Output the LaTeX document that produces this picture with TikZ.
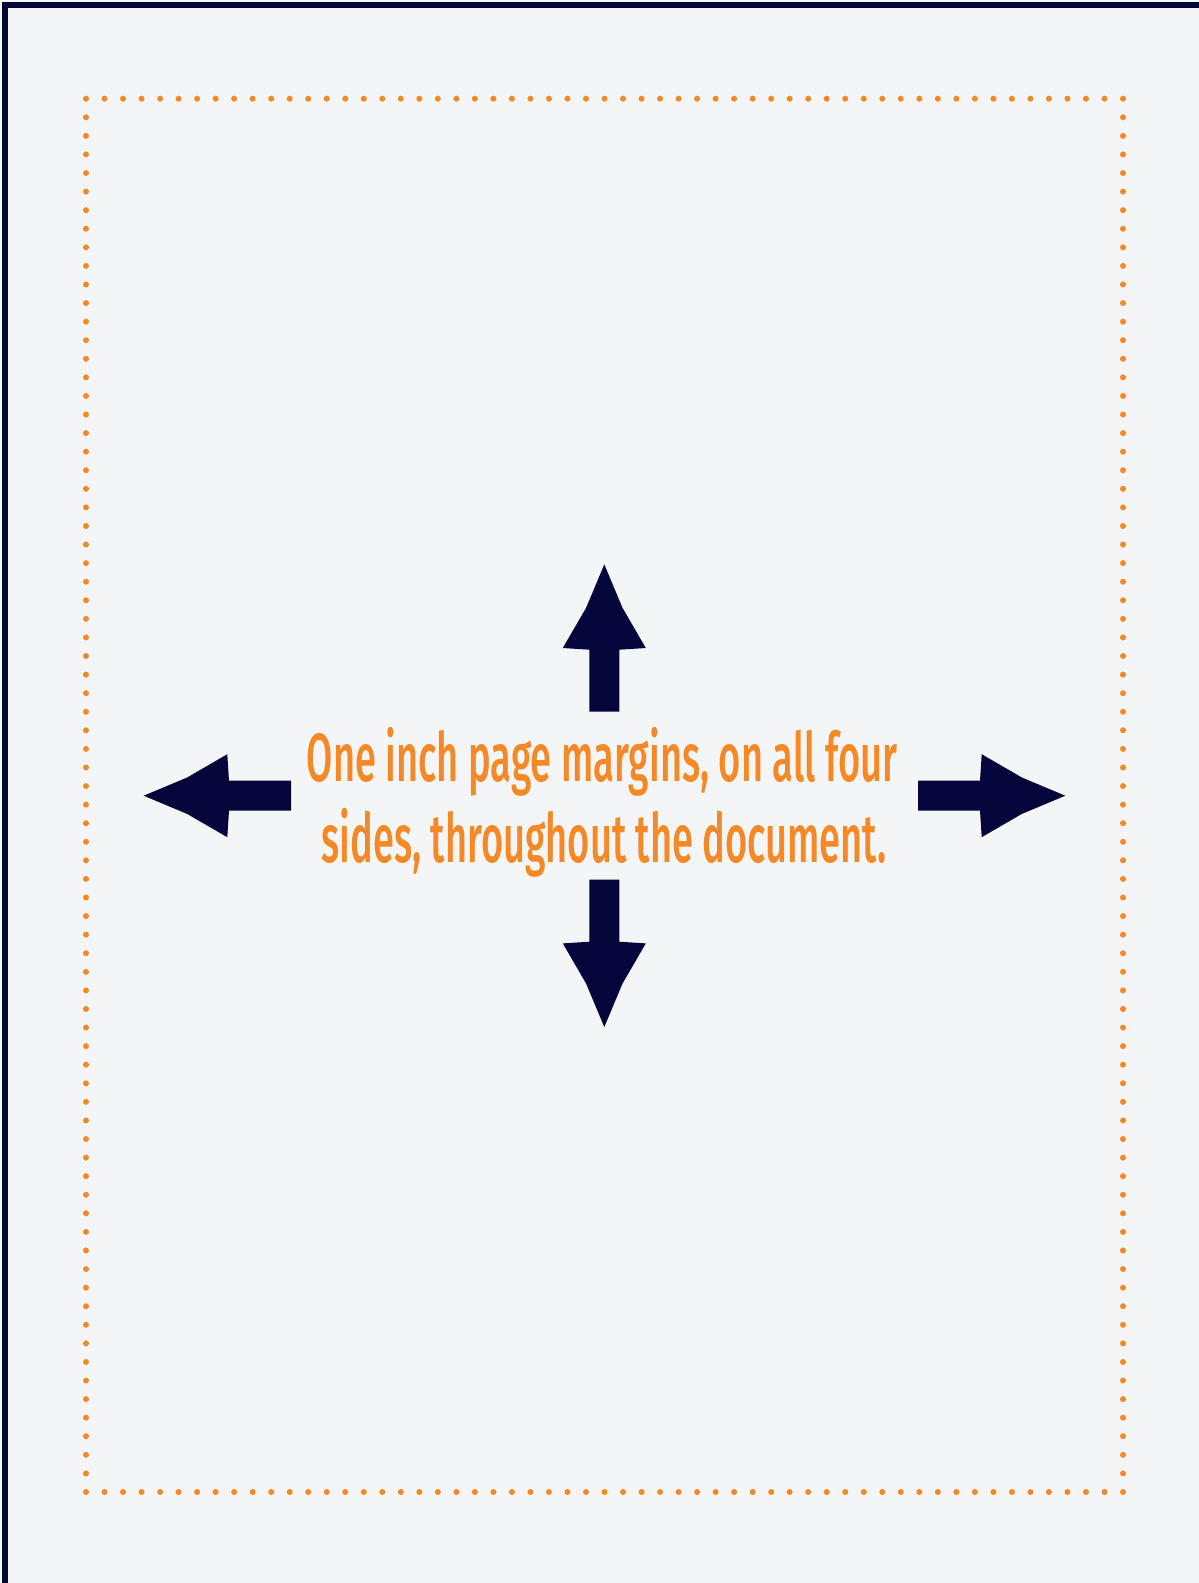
\documentclass[tikz,border=0pt]{standalone}
\usepackage{fontspec}
\newfontfamily\marginfont[FakeStretch=0.56]{Fira Sans Medium}
\definecolor{PageNavy}{HTML}{03053B}
\definecolor{PageOrange}{HTML}{F68826}
\definecolor{PageGrey}{HTML}{F4F5F7}

\begin{document}
\begin{tikzpicture}[x=1pt,y=-1pt,
  marginline/.style={font=\marginfont\fontsize{68}{80}\selectfont,text=PageOrange,anchor=base,inner sep=0pt},
  blockarrow/.pic={\fill[PageNavy] (0,-15) -- (62,-15) -- (63.7,-41.5) -- (103.7,-18.3) -- (147.3,0)
    -- (103.7,18.3) -- (63.7,41.5) -- (62,15) -- (0,15) -- cycle;}]
  \useasboundingbox (0,0) rectangle (1199,1583);
  \clip (0,0) rectangle (1199,1583);
  \fill[PageGrey] (0,0) rectangle (1199,1583);
  \draw[PageNavy,line width=6pt] (4.5,1600) -- (4.5,5) -- (1220,5);
  % one inch margin frame
  \foreach \i in {0,...,56} {
    \fill[PageOrange] (86+\i*18.518,98.7) circle (3);
    \fill[PageOrange] (86+\i*18.518,1492) circle (3);
  }
  \foreach \i in {1,...,74} {
    \fill[PageOrange] (86,98.7+\i*18.577) circle (3);
    \fill[PageOrange] (1123,98.7+\i*18.577) circle (3);
  }
  \coordinate (mid) at (604.3,795.7);
  \pic[rotate=90] at (604.3,711.7) {blockarrow};
  \pic[rotate=-90] at (604.3,879.7) {blockarrow};
  \pic[rotate=180] at (291,795.7) {blockarrow};
  \pic at (918,795.7) {blockarrow};
  \node[marginline] (lineA) at (602,781.7) {One inch page margins, on all four};
  \node[marginline] (lineB) at (604,862) {sides, throughout the document.};
\end{tikzpicture}
\end{document}
